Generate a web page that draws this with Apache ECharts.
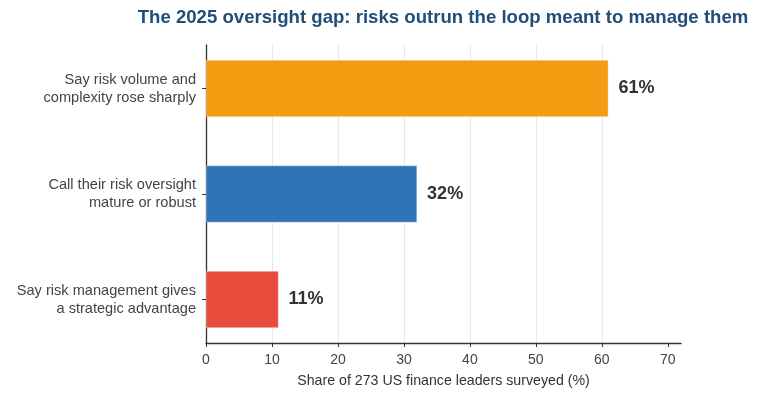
<!DOCTYPE html>
<html>
<head>
<meta charset="utf-8">
<script src="https://cdn.jsdelivr.net/npm/echarts@6/dist/echarts.min.js"></script>
<style>
html, body { margin: 0; padding: 0; background: #fff; }
#chart { width: 762px; height: 400px; }
</style>
</head>
<body>
<div id="chart"></div>
<script>
var categories = [
    "Say risk volume and\ncomplexity rose sharply",
    "Call their risk oversight\nmature or robust",
    "Say risk management gives\na strategic advantage"
];
var values = [61, 32, 11];
var barColors = ["#f39c12", "#2e75b6", "#e74c3c"];
var xTicks = [0, 10, 20, 30, 40, 50, 60, 70];

var font = "Liberation Sans, Arial, sans-serif";

var chart = echarts.init(document.getElementById("chart"), null, { renderer: "canvas" });

var barData = [];
for (var i = 0; i < values.length; i++) {
    barData.push({ value: values[i], itemStyle: { color: barColors[i] } });
}

var option = {
    animation: false,
    textStyle: { fontFamily: font },
    title: {
        text: "The 2025 oversight gap: risks outrun the loop meant to manage them",
        left: 443,
        top: 8,
        padding: 0,
        textAlign: "center",
        textStyle: { fontFamily: font, fontSize: 18.6, fontWeight: "bold", color: "#1f4e79" }
    },
    grid: [
        // frame: spines, ticks, gridlines
        { left: 206, right: 81, top: 45, bottom: 57 },
        // bars: category bands slightly wider than frame
        { left: 206, right: 81, top: 35.75, bottom: 47.75 }
    ],
    xAxis: [
        {
            gridIndex: 0,
            type: "value",
            min: 0,
            max: 72,
            interval: 10,
            name: "Share of 273 US finance leaders surveyed (%)",
            nameLocation: "middle",
            nameGap: 31,
            nameTextStyle: { fontFamily: font, fontSize: 14.2, color: "#333" },
            axisLine: { show: true, lineStyle: { color: "#333", width: 1.3 } },
            axisTick: { show: true, length: 4, customValues: xTicks, lineStyle: { color: "#333" } },
            axisLabel: { customValues: xTicks, fontFamily: font, fontSize: 14, color: "#444", margin: 10 },
            splitLine: { show: true, showMinLine: false, showMaxLine: false, lineStyle: { color: "#e8e8e8", width: 1 } }
        },
        {
            gridIndex: 1,
            type: "value",
            min: 0,
            max: 72,
            show: false
        }
    ],
    yAxis: [
        {
            gridIndex: 0,
            type: "value",
            min: 0,
            max: 1,
            axisLine: { show: true, lineStyle: { color: "#333", width: 1.3 } },
            axisTick: { show: false },
            axisLabel: { show: false },
            splitLine: { show: false }
        },
        {
            gridIndex: 1,
            type: "category",
            inverse: true,
            data: categories,
            axisLine: { show: false },
            axisTick: { show: true, alignWithLabel: true, length: 4, lineStyle: { color: "#333" } },
            axisLabel: {
                fontFamily: font,
                fontSize: 14.6,
                color: "#444",
                margin: 10,
                lineHeight: 18,
                align: "right"
            }
        }
    ],
    series: [
        {
            type: "bar",
            xAxisIndex: 1,
            yAxisIndex: 1,
            barWidth: 57,
            data: barData,
            itemStyle: { borderColor: "rgba(255,255,255,0.6)", borderWidth: 0.6 },
            label: {
                show: true,
                position: "right",
                distance: 10,
                formatter: "{c}%",
                fontFamily: font,
                fontSize: 18,
                fontWeight: "bold",
                color: "#333"
            },
            z: 3
        }
    ]
};

chart.setOption(option);
</script>
</body>
</html>
